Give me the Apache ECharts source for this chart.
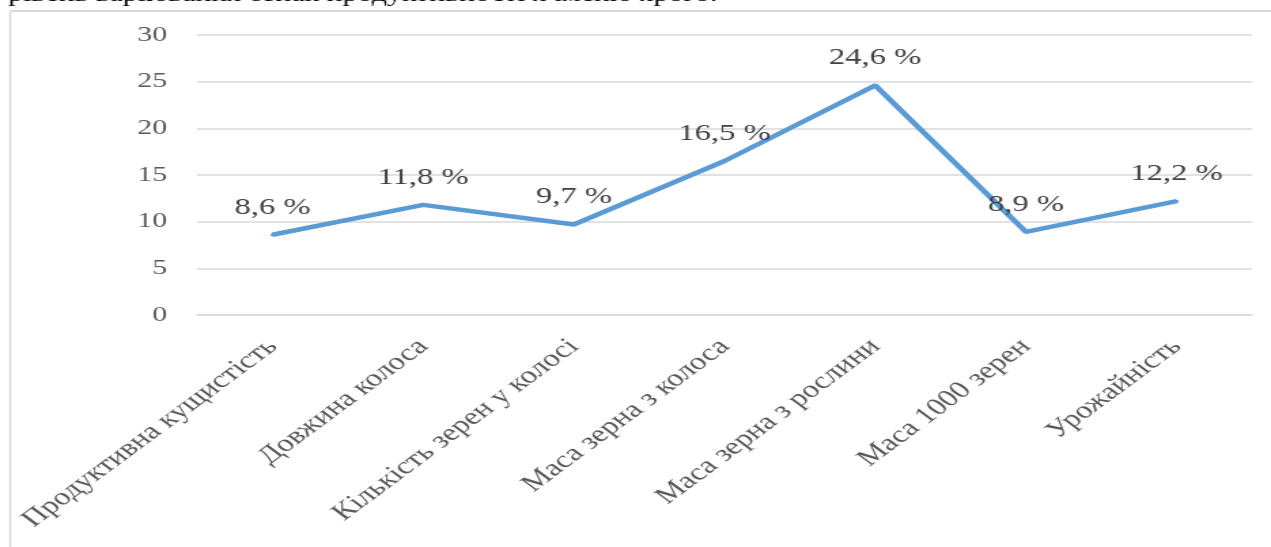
<!DOCTYPE html>
<html>
<head>
<meta charset="utf-8">
<script src="https://cdn.jsdelivr.net/npm/echarts@6/dist/echarts.min.js"></script>
<style>
html,body{margin:0;padding:0;background:#fff;overflow:hidden;width:1271px;height:547px;}
/* the reference picture is stretched horizontally (~1.36x); reproduce that by scaling the chart box */
#chart{width:935px;height:547px;transform:scaleX(1.35936);transform-origin:0 0;}
</style>
</head>
<body>
<div id="chart"></div>
<script>
const categories = ['Продуктивна кущистість','Довжина колоса','Кількість зерен у колосі','Маса зерна з колоса','Маса зерна з рослини','Маса 1000 зерен','Урожайність'];
const values = [8.6, 11.8, 9.7, 16.5, 24.6, 8.9, 12.2];
const yTicks = {min: 0, max: 30, interval: 5};
const captionText = 'рівень варіювання ознак продуктивності ячменю ярого.';

const serif = '"Liberation Serif", "Times New Roman", serif';
const chart = echarts.init(document.getElementById('chart'), null, {renderer: 'canvas'});
chart.setOption({
  backgroundColor: '#fff',
  animation: false,
  grid: {left: 145, right: 14, top: 35, bottom: 232, containLabel: false, outerBoundsMode: 'none'},
  graphic: [
    {type: 'text', left: 6, top: -16, style: {text: captionText, fontFamily: serif, fontSize: 22, fill: '#000'}},
    {type: 'line', shape: {x1: 7.5, y1: 11, x2: 935, y2: 11}, style: {stroke: '#d9d9d9', lineWidth: 2}},
    {type: 'line', shape: {x1: 7.5, y1: 11, x2: 7.5, y2: 547}, style: {stroke: '#d9d9d9', lineWidth: 1.5}}
  ],
  xAxis: {
    type: 'category',
    data: categories,
    boundaryGap: true,
    axisLine: {show: true, lineStyle: {color: '#d9d9d9', width: 1.5}},
    axisTick: {show: false},
    axisLabel: {rotate: 45, interval: 0, margin: 28, fontFamily: serif, fontSize: 24, color: '#595959'}
  },
  yAxis: {
    type: 'value',
    min: yTicks.min, max: yTicks.max, interval: yTicks.interval,
    axisLine: {show: false},
    axisTick: {show: false},
    splitLine: {lineStyle: {color: '#d9d9d9', width: 1.5}},
    axisLabel: {margin: 22, fontFamily: serif, fontSize: 22, color: '#595959'}
  },
  series: [{
    type: 'line',
    data: values,
    symbol: 'circle',
    symbolSize: 3,
    showSymbol: true,
    lineStyle: {color: '#5b9bd5', width: 4.5},
    itemStyle: {color: '#5b9bd5'},
    label: {
      show: true, position: 'top', distance: 14,
      fontFamily: serif, fontSize: 24, color: '#404040',
      formatter: p => String(p.value).replace('.', ',') + ' %'
    }
  }]
});
</script>
</body>
</html>
